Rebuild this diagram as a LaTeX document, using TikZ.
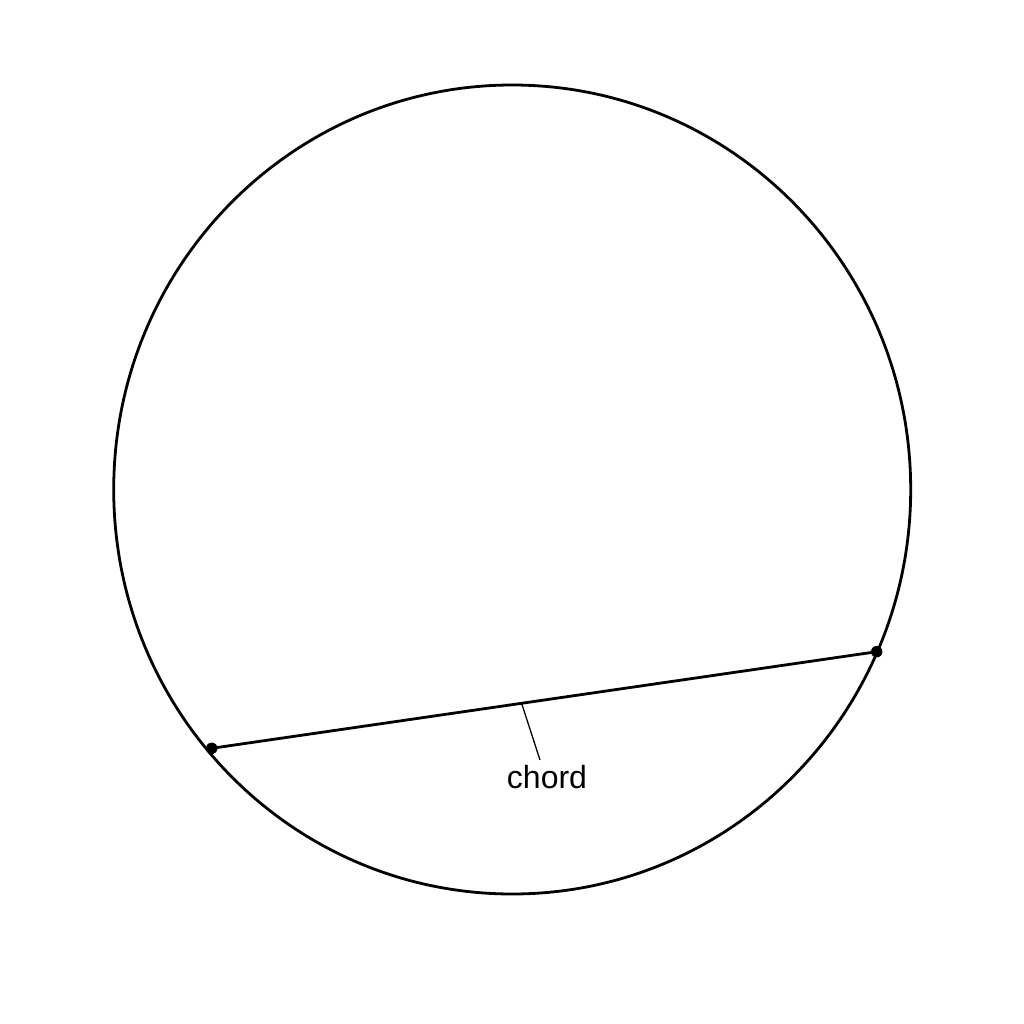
\documentclass[tikz,border=0pt]{standalone}
\usepackage{fontspec}
\setmainfont{Liberation Sans}
\usetikzlibrary{calc}
\begin{document}
\begin{tikzpicture}[x=1pt,y=-1pt,
  outline/.style={line width=2.8pt,black},
  chordline/.style={line width=2.8pt,black},
  tickline/.style={line width=1.3pt,black},
  dotmark/.style={circle,fill=black,inner sep=0pt,minimum size=11.5pt}]
\useasboundingbox (0,0) rectangle (1024,1024);
\fill[white] (0,0) rectangle (1024,1024);
\draw[outline] (512.2,489.5) ellipse [x radius=398.5pt, y radius=404.5pt];
\coordinate (A) at (211.7,748.3);
\coordinate (B) at (876.7,651.7);
\draw[chordline] (A) -- (B);
\node[dotmark] (dA) at (A) {};
\node[dotmark] (dB) at (B) {};
\coordinate (tickstart) at ($(A)!0.466!(B)$);
\coordinate (tickend) at (540,760);
\draw[tickline] (tickstart) -- (tickend);
\node[anchor=base,font=\fontsize{32}{38}\selectfont,inner sep=0pt] (lbl) at (547,788) {chord};
\end{tikzpicture}
\end{document}
